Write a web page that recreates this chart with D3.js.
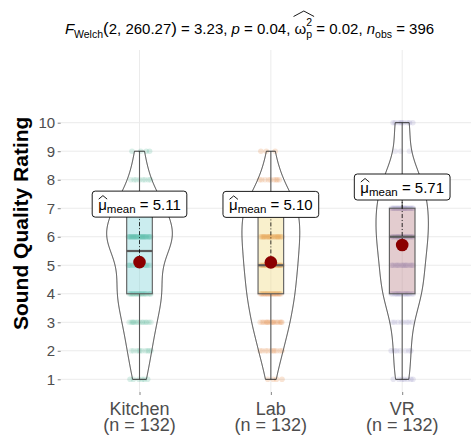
<!DOCTYPE html>
<html>
<head>
<meta charset="utf-8">
<script src="https://cdn.jsdelivr.net/npm/d3@7"></script>
<style>
  body { margin: 0; background: #fff; }
  text { font-family: "Liberation Sans", Arial, Helvetica, sans-serif; }
</style>
</head>
<body>
<svg id="chart" width="471" height="437"></svg>
<script>
// ---- data -------------------------------------------------------------
const categories = ["Kitchen", "Lab", "VR"];
const ratingLevels = [1, 2, 3, 4, 5, 6, 7, 8, 9, 10];
// number of ratings at each level (1..10) per condition
const kitchenCounts = [6, 10, 14, 20, 16, 32, 22, 8, 4, 0];
const labCounts     = [4, 10, 16, 20, 22, 24, 24, 9, 3, 0];
const vrCounts      = [7, 7, 8, 18, 18, 22, 22, 18, 3, 9];
const groupMeans = [5.11, 5.10, 5.71];
const groupN = [132, 132, 132];
const yTicks = [1, 2, 3, 4, 5, 6, 7, 8, 9, 10];
const welchStats = { df1: "2", df2: "260.27", F: "3.23", p: "0.04", omega: "0.02", nObs: "396" };
const pointColors = ["#1B9E77", "#D95F02", "#7570B3"];
const boxFills = ["rgba(42,182,188,0.3)", "rgba(232,195,45,0.3)", "rgba(138,45,58,0.3)"];

// ---- layout -----------------------------------------------------------
const panel = { left: 60.7, right: 481, top: 50, bottom: 392 };
const svg = d3.select("#chart");

const x = d3.scalePoint().domain(categories).range([panel.left, panel.right]).padding(0.6);
const y = d3.scaleLinear().domain([1, 10]).range([379.3, 122.7]);
const step = x.step();

// expand counts into raw observations
const countsByGroup = [kitchenCounts, labCounts, vrCounts];
const groups = categories.map((name, gi) => {
  const values = [];
  countsByGroup[gi].forEach((c, li) => { for (let k = 0; k < c; k++) values.push(ratingLevels[li]); });
  values.sort(d3.ascending);
  const q1 = d3.quantile(values, 0.25), med = d3.quantile(values, 0.5), q3 = d3.quantile(values, 0.75);
  const iqr = q3 - q1;
  const lo = d3.min(values.filter(v => v >= q1 - 1.5 * iqr));
  const hi = d3.max(values.filter(v => v <= q3 + 1.5 * iqr));
  // Gaussian KDE, bandwidth by Silverman's rule (nrd0), trimmed to data range
  const sd = d3.deviation(values);
  const bw = 0.9 * Math.min(sd, iqr / 1.34) * Math.pow(values.length, -0.2);
  const vmin = values[0], vmax = values[values.length - 1];
  const dens = d3.range(512).map(i => {
    const v = vmin + (vmax - vmin) * i / 511;
    let s = 0;
    countsByGroup[gi].forEach((c, li) => {
      const z = (v - ratingLevels[li]) / bw;
      s += c * Math.exp(-0.5 * z * z);
    });
    return { v, d: s / (values.length * bw * Math.sqrt(2 * Math.PI)) };
  });
  return { name, gi, values, q1, med, q3, lo, hi, dens, mean: groupMeans[gi], n: groupN[gi] };
});
const maxDens = d3.max(groups, g => d3.max(g.dens, d => d.d));
const violinHalf = 0.5 * step / 2;
const boxHalf = 0.195 * step / 2;

// ---- grid -------------------------------------------------------------
const grid = svg.append("g");
grid.selectAll("line.h").data(yTicks).join("line")
  .attr("x1", panel.left).attr("x2", panel.right)
  .attr("y1", d => y(d)).attr("y2", d => y(d))
  .attr("stroke", "#EBEBEB").attr("stroke-width", 1);
grid.selectAll("line.v").data(categories).join("line")
  .attr("x1", d => x(d)).attr("x2", d => x(d))
  .attr("y1", panel.top).attr("y2", panel.bottom)
  .attr("stroke", "#EBEBEB").attr("stroke-width", 1);

// ---- jittered observations -------------------------------------------
const pts = [];
groups.forEach(g => {
  countsByGroup[g.gi].forEach((c, li) => {
    for (let k = 0; k < c; k++) {
      const f = ((k + 1) * 0.6180339887 + li * 0.29 + g.gi * 0.13) % 1;
      pts.push({ g: g.gi, v: ratingLevels[li], dx: (f - 0.5) * 2 * 11.5 });
    }
  });
});
svg.append("g").selectAll("circle").data(pts).join("circle")
  .attr("cx", d => x(categories[d.g]) + d.dx)
  .attr("cy", d => y(d.v))
  .attr("r", 2.8)
  .attr("fill", d => pointColors[d.g])
  .attr("fill-opacity", 0.17);

// ---- boxplots ----------------------------------------------------------
const boxes = svg.append("g").selectAll("g").data(groups).join("g");
boxes.append("line")
  .attr("x1", d => x(d.name)).attr("x2", d => x(d.name))
  .attr("y1", d => y(d.q3)).attr("y2", d => y(d.hi))
  .attr("stroke", "#333").attr("stroke-width", 1.1);
boxes.append("line")
  .attr("x1", d => x(d.name)).attr("x2", d => x(d.name))
  .attr("y1", d => y(d.q1)).attr("y2", d => y(d.lo))
  .attr("stroke", "#333").attr("stroke-width", 1.1);
boxes.append("rect")
  .attr("x", d => x(d.name) - boxHalf).attr("width", boxHalf * 2)
  .attr("y", d => y(d.q3)).attr("height", d => y(d.q1) - y(d.q3))
  .attr("fill", (d, i) => boxFills[i])
  .attr("stroke", "#333").attr("stroke-width", 1.1);
boxes.append("line")
  .attr("x1", d => x(d.name) - boxHalf).attr("x2", d => x(d.name) + boxHalf)
  .attr("y1", d => y(d.med)).attr("y2", d => y(d.med))
  .attr("stroke", "#333").attr("stroke-width", 2.2);

// ---- violins ----------------------------------------------------------
svg.append("g").selectAll("path").data(groups).join("path")
  .attr("d", g => d3.area()
    .y(d => y(d.v))
    .x0(d => x(g.name) - violinHalf * d.d / maxDens)
    .x1(d => x(g.name) + violinHalf * d.d / maxDens)(g.dens))
  .attr("fill", "rgba(255,255,255,0.2)")
  .attr("stroke", "#222").attr("stroke-width", 0.9);

// ---- rich text helper ---------------------------------------------------
function richText(g, parts, baseY) {
  let cx = 0;
  parts.forEach(p => {
    if (p.stack) {
      p.x0 = cx;
      let w = 0;
      p.stack.forEach(s => {
        const t = g.append("text").attr("x", cx).attr("y", baseY + s.dy)
          .style("font-size", s.size + "px").style("font-style", s.italic ? "italic" : "normal")
          .attr("fill", p.fill || "#000").text(s.text);
        w = Math.max(w, t.node().getComputedTextLength());
      });
      p.w = w; cx += w + (p.kern || 0);
      return;
    }
    const t = g.append("text").attr("x", cx).attr("y", baseY + (p.dy || 0))
      .style("font-size", p.size + "px").style("font-style", p.italic ? "italic" : "normal")
      .attr("fill", p.fill || "#000").text(p.text);
    p.x0 = cx;
    p.w = t.node().getComputedTextLength();
    cx += p.w + (p.kern || 0);
  });
  return cx;
}
function hat(g, x0, x1, yBase, yTop) {
  g.append("path")
    .attr("d", `M${x0},${yBase}L${(x0 + x1) / 2},${yTop}L${x1},${yBase}`)
    .attr("fill", "none").attr("stroke", "#000").attr("stroke-width", 0.9);
}

// ---- mean markers & labels -------------------------------------------
groups.forEach(g => {
  const cx = x(g.name), cy = y(g.mean);
  const labelCy = cy - 58;
  const boxH = 26, pad = 6;
  svg.append("line")
    .attr("x1", cx).attr("x2", cx).attr("y1", cy).attr("y2", labelCy)
    .attr("stroke", "#000").attr("stroke-width", 0.8).attr("stroke-dasharray", "4,2,1,2");
  svg.append("circle").attr("cx", cx).attr("cy", cy).attr("r", 6.3).attr("fill", "#8B0000");

  const lg = svg.append("g");
  const rect = lg.append("rect");
  const tg = lg.append("g");
  const parts = [
    { text: "μ", size: 15 },
    { text: "mean", size: 11.5, dy: 3.5 },
    { text: "\u00A0= " + g.mean.toFixed(2), size: 15 }
  ];
  const w = richText(tg, parts, 0);
  hat(tg, parts[0].x0 + 0.5, parts[0].x0 + parts[0].w + 0.3, -10.5, -14);
  const bw = w + pad * 2;
  tg.attr("transform", `translate(${cx - w / 2},${labelCy + 5.5})`);
  rect.attr("x", cx - bw / 2).attr("y", labelCy - boxH / 2)
    .attr("width", bw).attr("height", boxH).attr("rx", 3)
    .attr("fill", "#fff").attr("stroke", "#000").attr("stroke-width", 0.9);
});

// ---- axes ------------------------------------------------------------
const yAxis = svg.append("g").attr("transform", `translate(${panel.left},0)`)
  .call(d3.axisLeft(y).tickValues(yTicks).tickSize(3).tickPadding(2.5).tickFormat(d3.format("d")));
yAxis.select(".domain").remove();
yAxis.selectAll(".tick line").attr("stroke", "#4D4D4D").attr("stroke-width", 0.7);
yAxis.selectAll(".tick text").attr("fill", "#4D4D4D")
  .style("font-size", "15px").style("font-family", "'Liberation Sans', Arial, sans-serif");

const xAxis = svg.append("g").attr("transform", `translate(0,${panel.bottom})`)
  .call(d3.axisBottom(x).tickSize(3).tickFormat(""));
xAxis.select(".domain").remove();
xAxis.selectAll(".tick line").attr("stroke", "#4D4D4D").attr("stroke-width", 0.7);
groups.forEach(g => {
  const t = svg.append("text").attr("x", x(g.name)).attr("text-anchor", "middle")
    .attr("fill", "#4D4D4D").style("font-size", "18px");
  t.append("tspan").attr("x", x(g.name)).attr("y", 414.5).text(g.name);
  t.append("tspan").attr("x", x(g.name)).attr("y", 431).text(`(n = ${g.n})`);
});

svg.append("text")
  .attr("transform", "translate(27.6,223.3) rotate(-90)")
  .attr("text-anchor", "middle")
  .style("font-size", "21px").style("font-weight", "bold")
  .text("Sound Quality Rating");

// ---- subtitle -----------------------------------------------------------
const sg = svg.append("g");
const sp = [
  { text: "F", size: 15, italic: true },
  { text: "Welch", size: 10.5, dy: 4 },
  { text: "(", size: 17 },
  { text: `${welchStats.df1}, ${welchStats.df2}`, size: 15 },
  { text: ")", size: 17 },
  { text: `\u00A0= ${welchStats.F},\u00A0`, size: 15 },
  { text: "p", size: 15, italic: true },
  { text: `\u00A0= ${welchStats.p},\u00A0`, size: 15 },
  { text: "ω", size: 15, kern: 0 },
  { stack: [{ text: "2", size: 10.5, dy: -8 }, { text: "p", size: 10.5, dy: 3.5 }] },
  { text: `\u00A0= ${welchStats.omega},\u00A0`, size: 15 },
  { text: "n", size: 15, italic: true },
  { text: "obs", size: 10.5, dy: 4 },
  { text: `\u00A0= ${welchStats.nObs}`, size: 15 }
];
const sw = richText(sg, sp, 34);
hat(sg, sp[8].x0 - 1, sp[9].x0 + sp[9].w + 2, 16.5, 11);
sg.attr("transform", `translate(${249.5 - sw / 2},0)`);
</script>
</body>
</html>
